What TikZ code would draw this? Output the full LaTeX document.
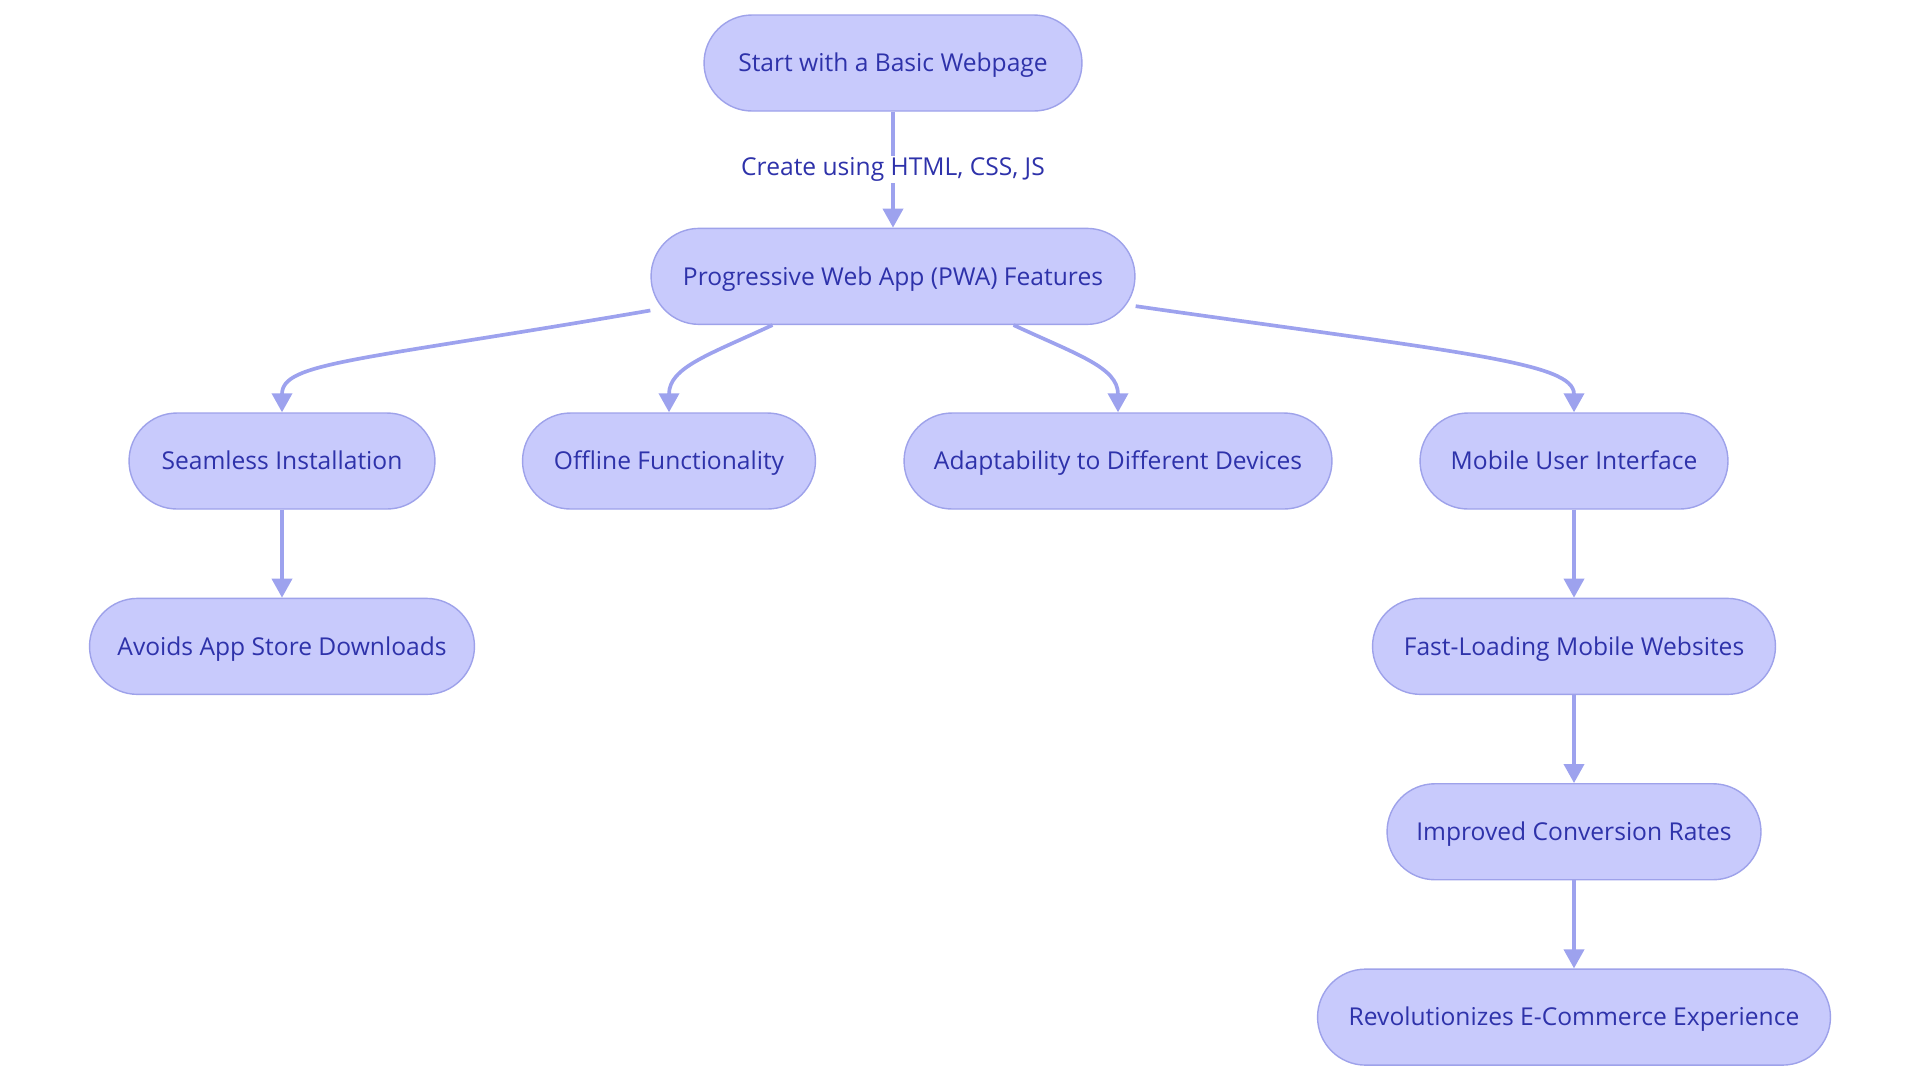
\documentclass[tikz,border=0pt]{standalone}
\usepackage{fontspec}
\setmainfont{Open Sans}
\usetikzlibrary{arrows.meta,positioning}
\definecolor{pwafill}{HTML}{C8CAFC}
\definecolor{pwaedge}{HTML}{9EA2EA}
\definecolor{pwatext}{HTML}{2E32AA}
\definecolor{pwaline}{HTML}{9DA2EE}

\begin{document}
\begin{tikzpicture}[
    x=0.02cm, y=0.02cm,
    node distance=1.76cm and 1cm,
    box/.style={rounded corners=0.96cm, draw=pwaedge, line width=0.8pt, fill=pwafill, text=pwatext, font=\fontsize{14}{16}\selectfont, text height=10pt, text depth=0pt, minimum height=1.92cm, inner xsep=0.3cm},
    lbl/.style={fill=white, text=pwatext, font=\fontsize{14}{16}\selectfont, inner sep=1pt},
    arrow/.style={-{Triangle[length=0.38cm, width=0.4cm]}, line width=2.1pt, draw=pwaline}
  ]
    \useasboundingbox (0,0) rectangle (1920,-1080);
    \node[box, minimum width=7.56cm] (start) at (893,-63) {Start with a Basic Webpage};
    \node[box, minimum width=9.68cm, below=2.32cm of start] (pwa) {Progressive Web App (PWA) Features};
    \node[box, minimum width=6.12cm] (install) at (282,-461) {Seamless Installation};
    \node[box, minimum width=5.86cm] (offline) at (669,-461) {Offline Functionality};
    \node[box, minimum width=8.56cm] (adapt) at (1118,-461) {Adaptability to Different Devices};
    \node[box, minimum width=6.16cm] (mobile) at (1574,-461) {Mobile User Interface};
    \node[box, minimum width=7.70cm, below=of install] (store) {Avoids App Store Downloads};
    \node[box, minimum width=8.06cm, below=of mobile] (fast) {Fast-Loading Mobile Websites};
    \node[box, minimum width=7.48cm, below=of fast] (conv) {Improved Conversion Rates};
    \node[box, minimum width=10.26cm, below=of conv] (ecom) {Revolutionizes E-Commerce Experience};

    \draw[arrow] (start) -- node[lbl] {Create using HTML, CSS, JS} (pwa);
    \draw[arrow] (pwa.188.5) .. controls +(189.75:300) and +(0,50) .. (install.north);
    \draw[arrow] (pwa.202.1) .. controls +(205:70) and +(0,45) .. (offline.north);
    \draw[arrow] (pwa.-22.1) .. controls +(-25:70) and +(0,45) .. (adapt.north);
    \draw[arrow] (pwa.-7.8) .. controls +(-8.1:330) and +(0,50) .. (mobile.north);
    \draw[arrow] (install) -- (store);
    \draw[arrow] (mobile) -- (fast);
    \draw[arrow] (fast) -- (conv);
    \draw[arrow] (conv) -- (ecom);
  \end{tikzpicture}
\end{document}
